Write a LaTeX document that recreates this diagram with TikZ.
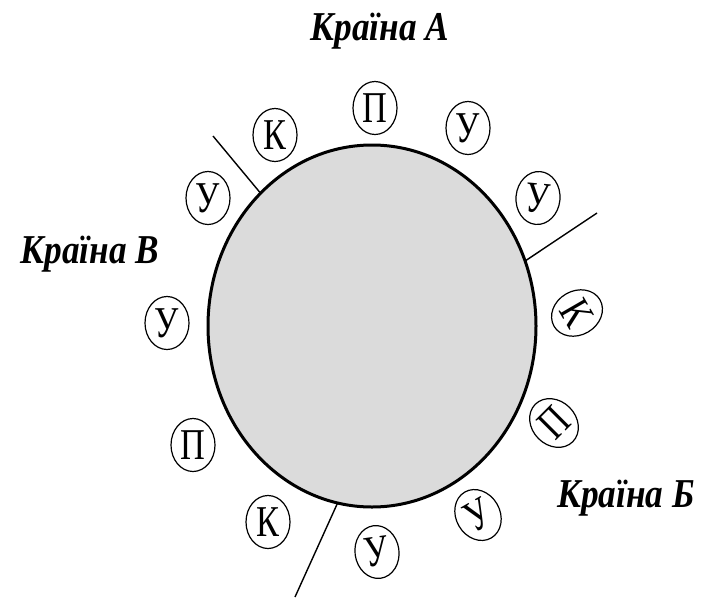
\documentclass[tikz,border=0pt]{standalone}
\usepackage{fontspec}
\usepackage{graphicx}
\setmainfont{Liberation Serif}
\usetikzlibrary{shapes.geometric}
\newcommand\Lt[1]{\scalebox{0.78}[1]{#1}}
\newcommand\Lb[1]{\scalebox{0.86}[1]{#1}}
\tikzset{
  coin/.style={ellipse, draw, line width=1.2pt, minimum width=44pt, minimum height=53pt,
    inner sep=0pt, outer sep=0pt, font=\fontsize{44}{46}\selectfont},
  land/.style={ellipse, draw, line width=3pt, fill=black!14, minimum width=328pt,
    minimum height=362pt, inner sep=0pt, outer sep=0pt},
  border/.style={line width=1.4pt},
  country/.style={font=\fontsize{41}{43}\selectfont\bfseries\itshape, inner sep=0pt}
}
\begin{document}
\begin{tikzpicture}[x=1pt,y=-1pt]
\path[use as bounding box] (0,0) rectangle (712,606);
\node[land] (big) at (372,326) {};
\coordinate (e1) at (213,136);
\coordinate (e2) at (597,213);
\coordinate (e3) at (295,597);
\draw[border] (big.130) -- (e1);
\draw[border] (big.23) -- (e2);
\draw[border] (big.259) -- (e3);
\node[coin] (c1) at (275,135) {\Lt{К}};
\node[coin] (c2) at (375,108) {\Lt{П}};
\node[coin] (c3) at (468,128) {\Lt{У}};
\node[coin, rotate=-5] (c4) at (538,198) {\Lt{У}};
\node[coin, rotate=-60] (c5) at (577,313) {\Lt{К}};
\node[coin, rotate=45] (c6) at (554,423) {\Lt{П}};
\node[coin, rotate=30] (c7) at (478,515) {\Lt{У}};
\node[coin, rotate=8] (c8) at (377,552) {\Lt{У}};
\node[coin] (c9) at (268,522) {\Lt{К}};
\node[coin] (c10) at (193,445) {\Lt{П}};
\node[coin] (c11) at (167,323) {\Lt{У}};
\node[coin] (c12) at (208,198) {\Lt{У}};
\node[country] (la) at (380,31) {\Lb{Країна А}};
\node[country] (lb) at (626,498) {\Lb{Країна Б}};
\node[country] (lv) at (90,254) {\Lb{Країна В}};
\end{tikzpicture}
\end{document}
